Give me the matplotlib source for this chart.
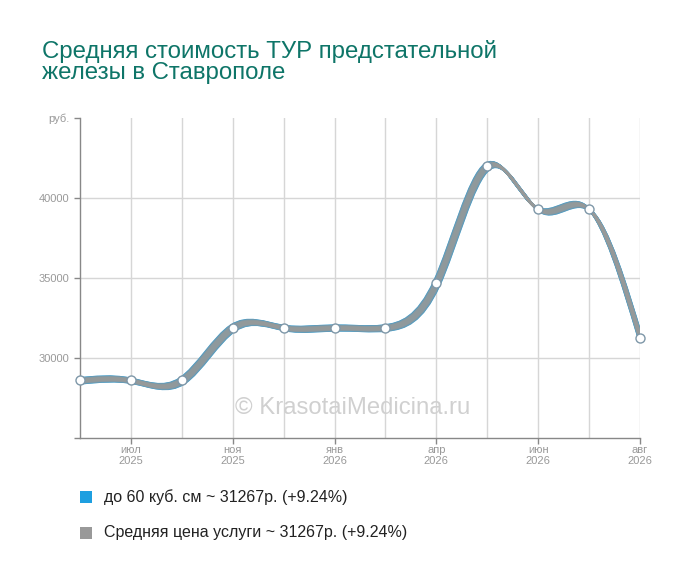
import numpy as np
import matplotlib
matplotlib.use("Agg")
import matplotlib.pyplot as plt
from matplotlib.path import Path
from matplotlib.patches import PathPatch, Rectangle
from matplotlib import transforms

plt.rcParams["font.family"] = ["Liberation Sans", "DejaVu Sans"]

# данные с графика
months = ["", "июл\n2025", "", "ноя\n2025", "", "янв\n2026", "", "апр\n2026", "", "июн\n2026", "", "авг\n2026"]
prices_60 = [28600, 28600, 28600, 31900, 31900, 31900, 31900, 34700, 42000, 39300, 39300, 31267]
prices_avg = [28600, 28600, 28600, 31900, 31900, 31900, 31900, 34700, 42000, 39300, 39300, 31267]
legend_labels = ["до 60 куб. см ~ 31267р. (+9.24%)", "Средняя цена услуги ~ 31267р. (+9.24%)"]
y_ticks = [30000, 35000, 40000]

BLUE = "#1e9fe0"
GRAY = "#999999"
TEAL = "#0e7568"


def smooth_path(x, y):
    # натуральный кубический сплайн, переведённый в кривые Безье
    x = np.asarray(x, float)
    y = np.asarray(y, float)
    n = len(x)
    h = np.diff(x)
    A = np.zeros((n, n))
    b = np.zeros(n)
    A[0, 0] = A[-1, -1] = 1
    for i in range(1, n - 1):
        A[i, i - 1] = h[i - 1]
        A[i, i] = 2 * (h[i - 1] + h[i])
        A[i, i + 1] = h[i]
        b[i] = 6 * ((y[i + 1] - y[i]) / h[i] - (y[i] - y[i - 1]) / h[i - 1])
    M = np.linalg.solve(A, b)
    verts = [(x[0], y[0])]
    codes = [Path.MOVETO]
    for i in range(n - 1):
        s = (y[i + 1] - y[i]) / h[i]
        d0 = s - h[i] * (2 * M[i] + M[i + 1]) / 6
        d1 = s + h[i] * (M[i] + 2 * M[i + 1]) / 6
        verts += [(x[i] + h[i] / 3, y[i] + d0 * h[i] / 3),
                  (x[i + 1] - h[i] / 3, y[i + 1] - d1 * h[i] / 3),
                  (x[i + 1], y[i + 1])]
        codes += [Path.CURVE4] * 3
    return Path(verts, codes)


fig = plt.figure(figsize=(7, 5.82), dpi=100)
ax = fig.add_axes([80 / 700, 1 - 438 / 582, 560 / 700, 320 / 582])

xs = np.arange(len(months))
ax.set_xlim(0, len(months) - 1)
ax.set_ylim(25000, 45000)

# сетка
for xv in xs[1:]:
    ax.axvline(xv, color="#d6d6d6", lw=1, zorder=0)
for yv in y_ticks:
    ax.axhline(yv, color="#d6d6d6", lw=1, zorder=0)

# "лента" из смещённых копий линий
offs = np.linspace(-1.8, 2.6, 12)
for series, color, alpha in [(prices_60, BLUE, 1.0), (prices_avg, GRAY, 0.42)]:
    path = smooth_path(xs, series)
    for k in offs:
        tr = transforms.offset_copy(ax.transData, fig=fig, x=k, y=-k, units="dots")
        ax.add_patch(PathPatch(path, fill=False, edgecolor=color, lw=2.0,
                               alpha=alpha, transform=tr, zorder=2))

ax.plot(xs, prices_avg, "o", ms=6.5, mfc="white", mec="#7e97a8", mew=1, zorder=4, clip_on=False)

for s in ["top", "right"]:
    ax.spines[s].set_visible(False)
for s in ["left", "bottom"]:
    ax.spines[s].set_color("#888888")
    ax.spines[s].set_linewidth(1)

ax.set_yticks(y_ticks + [25000, 45000])
ax.set_yticklabels([str(v) for v in y_ticks] + ["", "руб."])
ax.set_xticks(xs[1::2])
ax.set_xticklabels(months[1::2])
ax.tick_params(axis="both", colors="#888888", labelcolor="#999999", labelsize=8, length=4, width=1)
ax.tick_params(axis="x", pad=1)
for lbl in ax.get_xticklabels():
    lbl.set_linespacing(1.15)

fig.text(42 / 700, 1 - 40 / 582, "Средняя стоимость ТУР предстательной\nжелезы в Ставрополе",
         color=TEAL, fontsize=17.3, va="top", ha="left", linespacing=0.95)

fig.text(353 / 700, 1 - 408 / 582, "© KrasotaiMedicina.ru", color="#d0d0d0",
         fontsize=17.2, ha="center", va="center", zorder=1)

# легенда
for i, (lab, col) in enumerate(zip(legend_labels, [BLUE, GRAY])):
    yc = 1 - (497 + i * 36) / 582
    fig.patches.append(Rectangle((80 / 700, yc - 6 / 582), 12 / 700, 12 / 582,
                                 transform=fig.transFigure, facecolor=col, edgecolor="none"))
    fig.text(104 / 700, yc, lab, fontsize=11.5, color="#222222", va="center", ha="left")

fig.savefig("out.png", dpi=100)
